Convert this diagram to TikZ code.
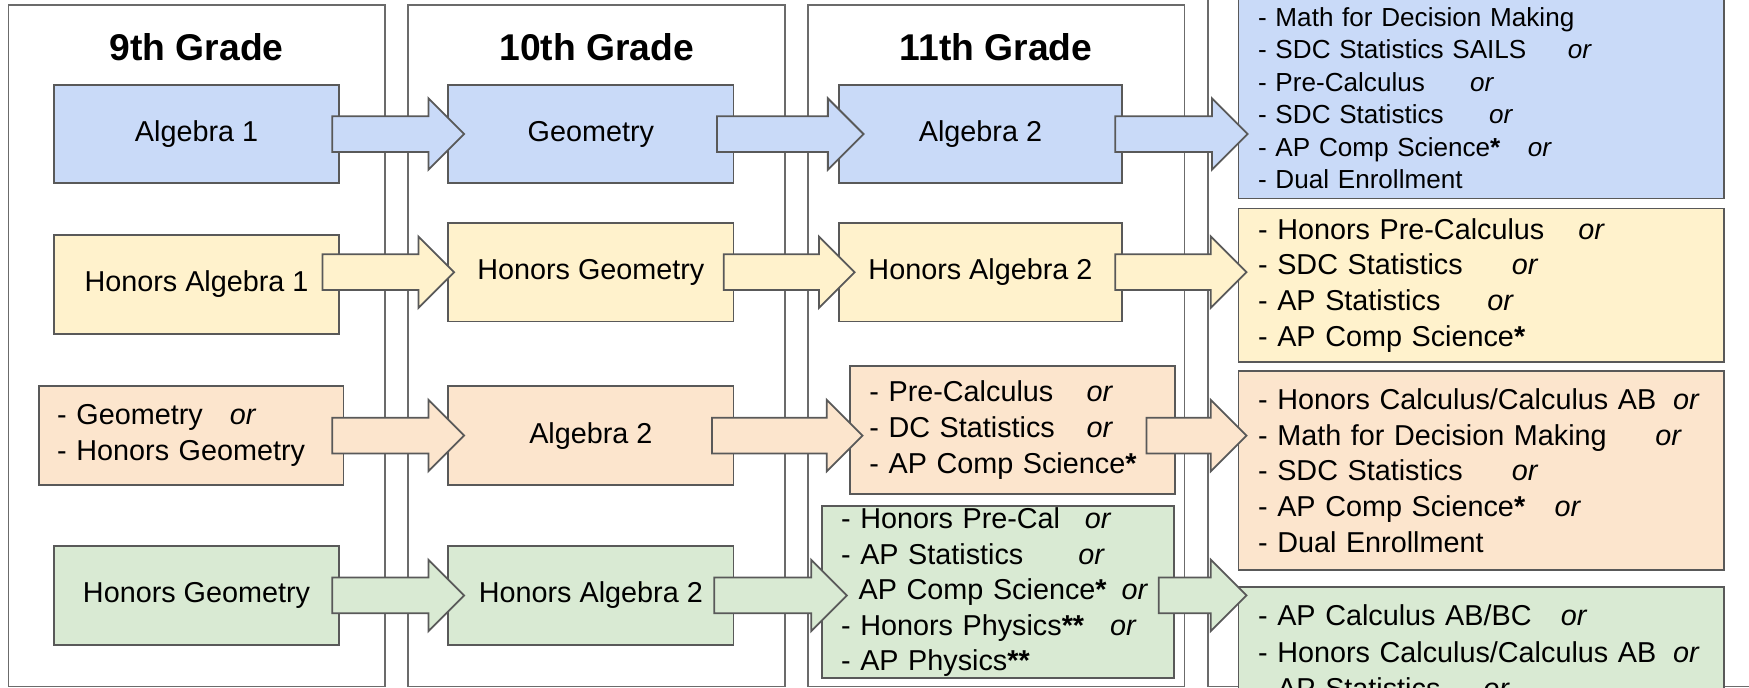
\documentclass[tikz,border=0pt]{standalone}
\usepackage{fontspec}
\setmainfont{Liberation Sans}
\usetikzlibrary{calc}

\definecolor{boxblue}{HTML}{C9DAF8}
\definecolor{boxyellow}{HTML}{FFF2CC}
\definecolor{boxorange}{HTML}{FCE5CD}
\definecolor{boxgreen}{HTML}{D9EAD3}
\definecolor{edgegray}{HTML}{595959}
\definecolor{framegray}{HTML}{6B6B6B}

% course name, then "or" at a fixed distance
\newcommand{\orat}[2]{\makebox[#1][l]{#2}\textit{or}}
% block arrow: fill, from, to, row node, tail inset, tip overshoot
\newcommand{\flow}[6]{%
\draw[flowline,fill=#1] let \p1=(#2.east), \p2=(#3.west), \p3=(#4) in
  (\x1-#5,\y3+8pt) -- (\x2+#6-16pt,\y3+8pt) -- (\x2+#6-16pt,\y3+16pt) -- (\x2+#6,\y3)
  -- (\x2+#6-16pt,\y3-16pt) -- (\x2+#6-16pt,\y3-8pt) -- (\x1-#5,\y3-8pt) -- cycle;}

\begin{document}
\begin{tikzpicture}[x=0.5pt,y=-0.5pt,
  every node/.style={font=\fontsize{12.9}{16}\selectfont},
  frame/.style={draw=framegray,line width=0.75pt},
  title/.style={font=\bfseries\fontsize{16.7}{20}\selectfont},
  course/.style={draw=edgegray,line width=0.8pt,minimum width=127.8pt,minimum height=44.2pt,inner sep=0pt},
  list/.style={draw=edgegray,line width=0.8pt,align=left,inner ysep=0pt,inner xsep=8.8pt},
  flowline/.style={draw=edgegray,line width=0.8pt}]
\clip (0,0) rectangle (1568,616);

% grade frames
\draw[frame] (7.5,4.5) rectangle (345,615.5);
\draw[frame] (366,4.5) rectangle (704,615.5);
\draw[frame] (724.6,4.5) rectangle (1062,615.5);
\draw[frame] (1083,-20) rectangle (1620,615.5);

\node[title] (t9) at (176.3,42) {9th Grade};
\node[title] (t10) at (535,42) {10th Grade};
\node[title] (t11) at (893,42) {11th Grade};

% blue row
\node[course,fill=boxblue] (alg1) at (176.2,120.2) {Algebra 1};
\node[course,fill=boxblue] (geo) at (529.7,120.2) {Geometry};
\node[course,fill=boxblue,minimum width=127pt] (alg2) at (879,120.2) {Algebra 2};
\node[list,fill=boxblue,text width=200pt,minimum height=90pt,font=\fontsize{11.7}{14.6}\selectfont] (r12b) at (1327.9,88) {- Math for Decision Making\\
  \orat{138.9pt}{- SDC Statistics SAILS}\\
  \orat{95pt}{- Pre-Calculus}\\
  \orat{103.6pt}{- SDC Statistics}\\
  \orat{120.9pt}{- AP Comp Science\textbf{*}}\\
  - Dual Enrollment};

% yellow row
\node[course,fill=boxyellow] (halg1) at (176.2,255.1) {Honors Algebra 1};
\node[course,fill=boxyellow] (hgeo) at (529.7,244) {Honors Geometry};
\node[course,fill=boxyellow,minimum width=127pt] (halg2) at (879,244) {Honors Algebra 2};
\node[list,fill=boxyellow,text width=200pt,minimum height=68.75pt] (r12y) at (1327.9,255.6) {\orat{143.6pt}{- Honors Pre-Calculus}\\
  \orat{113.8pt}{- SDC Statistics}\\
  \orat{102.8pt}{- AP Statistics}\\
  - AP Comp Science\textbf{*}};

% orange row
\node[list,fill=boxorange,text width=120.2pt,inner xsep=8.15pt,minimum height=44.5pt] (geoor) at (171.5,390.5) {\orat{77.4pt}{- Geometry}\\
  - Honors Geometry};
\node[course,fill=boxorange] (alg2o) at (529.7,390.5) {Algebra 2};
\node[list,fill=boxorange,text width=128.35pt,inner xsep=8.7pt,minimum height=57.5pt] (list11o) at (907.8,385.5) {\orat{97.4pt}{- Pre-Calculus}\\
  \orat{97.4pt}{- DC Statistics}\\
  - AP Comp Science\textbf{*}};
\node[list,fill=boxorange,text width=200pt,minimum height=89.2pt] (r12o) at (1327.9,421.8) {\orat{186pt}{- Honors Calculus/Calculus AB}\\
  \orat{178.1pt}{- Math for Decision Making}\\
  \orat{113.8pt}{- SDC Statistics}\\
  \orat{132.9pt}{- AP Comp Science\textbf{*}}\\
  - Dual Enrollment};

% green row
\node[course,fill=boxgreen] (hgeog) at (176.2,533.8) {Honors Geometry};
\node[course,fill=boxgreen] (halg2g) at (529.7,533.8) {Honors Algebra 2};
\node[list,fill=boxgreen,text width=140.85pt,inner xsep=8.5pt,minimum height=77.15pt,font=\fontsize{12.9}{15.9}\selectfont] (list11g) at (894.9,530.9) {\orat{109.3pt}{- Honors Pre-Cal}\\
  \orat{106.4pt}{- AP Statistics}\\
  \orat{125.8pt}{\hspace{7.9pt}AP Comp Science\textbf{*}}\\
  \orat{120.6pt}{- Honors Physics\textbf{**}}\\
  - AP Physics\textbf{**}};
\node[list,fill=boxgreen,text width=200pt,minimum height=58.3pt,font=\fontsize{12.9}{16.45}\selectfont] (r12g) at (1327.9,584.3) {\orat{135.7pt}{- AP Calculus AB/BC}\\
  \orat{186pt}{- Honors Calculus/Calculus AB}\\
  \orat{101pt}{- AP Statistics}};

% arrows
\flow{boxblue}{alg1}{geo}{geo}{3.5pt}{7.5pt}
\flow{boxblue}{geo}{alg2}{geo}{7.75pt}{11.5pt}
\flow{boxblue}{alg2}{r12b}{geo}{3.5pt}{4.5pt}
\flow{boxyellow}{halg1}{hgeo}{hgeo}{7.8pt}{3pt}
\flow{boxyellow}{hgeo}{halg2}{hgeo}{4.75pt}{7.5pt}
\flow{boxyellow}{halg2}{r12y}{hgeo}{3.5pt}{4pt}
\flow{boxorange}{geoor}{alg2o}{alg2o}{5.5pt}{7.5pt}
\flow{boxorange}{alg2o}{list11o}{alg2o}{10pt}{6pt}
\flow{boxorange}{list11o}{r12o}{alg2o}{13.25pt}{4pt}
\flow{boxgreen}{hgeog}{halg2g}{halg2g}{3.5pt}{7.5pt}
\flow{boxgreen}{halg2g}{list11g}{halg2g}{9pt}{11.5pt}
\flow{boxgreen}{list11g}{r12g}{halg2g}{7.35pt}{4pt}
\end{tikzpicture}
\end{document}
